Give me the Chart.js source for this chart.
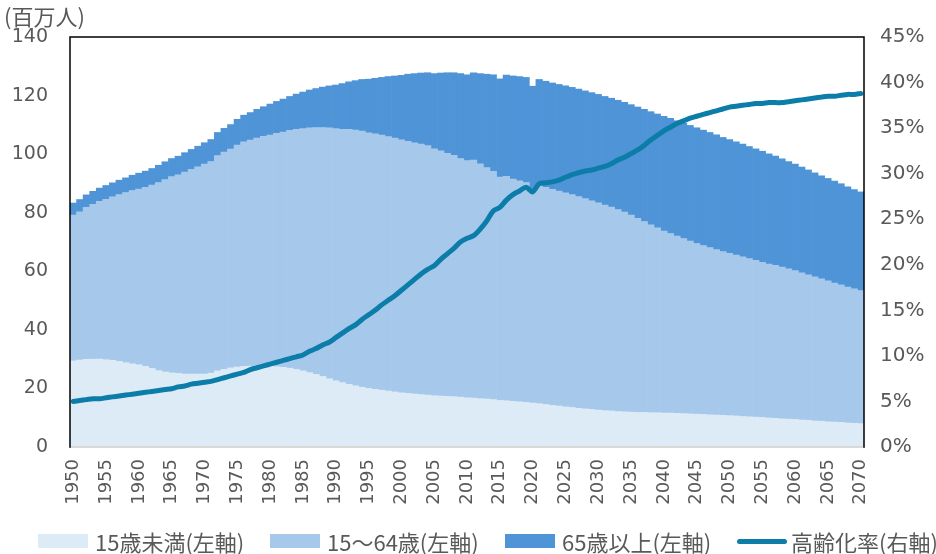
<!DOCTYPE html>
<html><head><meta charset="utf-8">
<script src="https://cdn.jsdelivr.net/npm/chart.js@4"></script>
<style>
html,body{margin:0;padding:0;background:#fff;}
#wrap{position:relative;width:936px;height:554px;background:#fff;overflow:hidden;}
#unit{position:absolute;left:4px;top:2px;font-family:"Noto Sans CJK JP";font-size:22px;color:#595959;line-height:26px;}
.lg{position:absolute;top:528px;height:26px;display:flex;align-items:center;font-family:"Noto Sans CJK JP";font-size:22px;color:#595959;white-space:nowrap;}
.bx{width:50px;height:14px;margin-right:7px;}
.ln{width:50px;height:5px;border-radius:3px;margin-right:4px;}
</style></head>
<body>
<div id="wrap">
<canvas id="c" width="936" height="554"></canvas>
<div id="unit">(百万人)</div>
<div id="legend"></div>
</div>
<script>
const years = [];
for (let y = 1950; y <= 2070; y++) years.push(String(y));

const seriesNames = ["15歳未満(左軸)", "15～64歳(左軸)", "65歳以上(左軸)", "高齢化率(右軸)"];

// 0-14 (millions)
const under15 = [
29.4,29.7,29.9,30.0,30.0,29.8,29.6,29.2,28.8,28.4,
28.1,27.5,26.8,26.1,25.6,25.3,25.1,24.9,24.9,24.9,
24.9,25.2,26.0,26.5,27.0,27.3,27.5,27.6,27.7,27.7,
27.6,27.4,27.2,26.9,26.5,26.0,25.4,24.8,24.1,23.3,
22.6,22.0,21.4,20.9,20.4,20.0,19.7,19.4,19.1,18.8,
18.5,18.3,18.1,17.9,17.7,17.5,17.4,17.3,17.2,17.0,
16.8,16.7,16.5,16.4,16.2,15.9,15.8,15.6,15.4,15.2,
15.0,14.8,14.5,14.2,14.0,13.7,13.5,13.2,13.0,12.8,
12.6,12.4,12.3,12.1,12.0,11.9,11.8,11.8,11.7,11.7,
11.6,11.6,11.5,11.4,11.3,11.2,11.1,11.0,10.9,10.8,
10.7,10.6,10.4,10.3,10.2,10.1,9.9,9.8,9.6,9.5,
9.4,9.2,9.1,8.9,8.8,8.6,8.5,8.4,8.2,8.1,
8.0];

// 15-64 (millions)
const age15to64 = [
49.8,50.6,51.9,52.9,53.9,54.8,55.8,57.0,58.1,59.2,
60.0,61.2,62.6,64.2,65.7,67.0,67.8,69.0,69.9,70.8,
71.7,72.3,73.5,74.2,74.7,75.8,76.7,77.2,77.8,78.4,
78.9,79.7,80.3,81.2,82.0,82.7,83.6,84.3,85.0,85.7,
86.1,86.5,87.1,87.3,87.5,87.3,87.2,87.1,86.9,86.7,
86.4,86.1,85.8,85.5,85.2,84.3,83.7,83.0,82.4,81.5,
81.0,81.3,80.2,79.0,77.9,76.3,76.6,75.9,75.5,75.1,
72.9,74.5,74.2,73.8,73.4,73.1,72.7,72.3,71.8,71.3,
70.8,70.2,69.6,69.0,68.2,67.3,66.3,65.2,64.2,63.1,
62.1,61.3,60.5,59.8,59.0,58.3,57.7,57.1,56.5,55.9,
55.4,54.9,54.5,54.0,53.5,53.0,52.6,52.2,51.8,51.3,
50.8,50.3,49.7,49.2,48.6,48.1,47.5,47.0,46.4,45.9,
45.4];

// 65+ (millions)
const age65plus = [
4.1,4.2,4.3,4.4,4.5,4.7,4.8,4.9,5.0,5.2,
5.4,5.5,5.7,5.9,6.1,6.2,6.4,6.6,6.8,7.0,
7.3,7.5,7.9,8.1,8.4,8.8,9.1,9.4,9.8,10.1,
10.6,10.9,11.3,11.6,12.0,12.5,12.9,13.3,13.8,14.3,
14.9,15.6,16.2,16.9,17.6,18.3,19.0,19.7,20.5,21.2,
22.0,22.9,23.6,24.3,24.9,25.7,26.6,27.5,28.2,29.0,
29.3,29.8,30.8,31.9,33.0,33.5,34.6,35.2,35.6,35.9,
35.3,36.2,36.2,36.3,36.4,36.5,36.6,36.7,36.8,36.9,
37.0,37.1,37.2,37.3,37.5,37.7,38.0,38.3,38.6,38.9,
39.2,39.3,39.4,39.4,39.5,39.5,39.4,39.3,39.2,39.0,
38.9,38.7,38.5,38.3,38.1,37.9,37.6,37.3,37.0,36.7,
36.4,36.1,35.8,35.5,35.2,35.0,34.8,34.5,34.2,33.9,
33.7];

// aging rate (%)
const agingRate = [
5.0,5.1,5.2,5.3,5.3,5.4,5.5,5.6,5.7,5.8,
5.9,6.0,6.1,6.2,6.3,6.4,6.6,6.7,6.9,7.0,
7.1,7.2,7.4,7.6,7.8,8.0,8.2,8.5,8.7,8.9,
9.1,9.3,9.5,9.7,9.9,10.1,10.5,10.8,11.2,11.5,
12.0,12.5,13.0,13.4,14.0,14.5,15.0,15.6,16.1,16.6,
17.2,17.8,18.4,19.0,19.5,19.9,20.6,21.2,21.8,22.5,
22.9,23.2,23.9,24.8,25.9,26.3,27.1,27.7,28.1,28.5,
28.0,28.9,29.0,29.1,29.3,29.6,29.9,30.1,30.3,30.4,
30.6,30.8,31.1,31.5,31.8,32.2,32.6,33.1,33.7,34.2,
34.7,35.1,35.5,35.8,36.1,36.3,36.5,36.7,36.9,37.1,
37.3,37.4,37.5,37.6,37.7,37.7,37.8,37.8,37.8,37.9,
38.0,38.1,38.2,38.3,38.4,38.5,38.5,38.6,38.7,38.7,
38.8];

const leftTicks = [0,20,40,60,80,100,120,140];
const rightTicks = [0,5,10,15,20,25,30,35,40,45];

const colors = ["#DDEBF7", "#A6C9EB", "#4E94D7", "#0B7DA8"];
const txt = "#595959";

// HTML legend
const legendPos = [38, 270, 505, 737];
const lg = document.getElementById('legend');
seriesNames.forEach((n, i) => {
  const d = document.createElement('div');
  d.className = 'lg';
  d.style.left = legendPos[i] + 'px';
  const s = document.createElement('span');
  s.className = i < 3 ? 'bx' : 'ln';
  s.style.background = colors[i];
  d.appendChild(s);
  const t = document.createElement('span');
  t.textContent = n;
  d.appendChild(t);
  lg.appendChild(d);
});

const frame = {
  id: 'frame',
  afterDraw(chart) {
    const a = chart.chartArea, c = chart.ctx;
    c.save();
    c.lineCap = 'square';
    c.strokeStyle = '#D9D9D9'; c.lineWidth = 2;
    c.beginPath(); c.moveTo(a.left, a.bottom); c.lineTo(a.right, a.bottom); c.stroke();
    c.strokeStyle = '#000'; c.lineWidth = 1.5;
    c.beginPath(); c.moveTo(a.left, a.bottom); c.lineTo(a.left, a.top); c.lineTo(a.right, a.top); c.lineTo(a.right, a.bottom); c.stroke();
    c.restore();
  }
};

new Chart(document.getElementById('c'), {
  data: {
    labels: years,
    datasets: [
      { type: 'bar', label: seriesNames[0], data: under15, backgroundColor: colors[0], yAxisID: 'y', order: 1, borderWidth: 0 },
      { type: 'bar', label: seriesNames[1], data: age15to64, backgroundColor: colors[1], yAxisID: 'y', order: 1, borderWidth: 0 },
      { type: 'bar', label: seriesNames[2], data: age65plus, backgroundColor: colors[2], yAxisID: 'y', order: 1, borderWidth: 0 },
      { type: 'line', label: seriesNames[3], data: agingRate, borderColor: colors[3], backgroundColor: colors[3], yAxisID: 'y1', order: 0,
        borderWidth: 5, pointRadius: 0, tension: 0.3, borderCapStyle: 'round', borderJoinStyle: 'round' }
    ]
  },
  options: {
    responsive: false,
    devicePixelRatio: 1,
    animation: false,
    layout: { padding: { top: 37, bottom: 42, left: 0, right: 0 } },
    datasets: { bar: { barPercentage: 1, categoryPercentage: 1 } },
    plugins: { legend: { display: false }, tooltip: { enabled: false } },
    scales: {
      x: {
        stacked: true,
        offset: true,
        grid: { display: false, drawTicks: false },
        border: { display: false },
        ticks: {
          autoSkip: false, maxRotation: 90, minRotation: 90, padding: 12,
          color: txt, font: { family: "DejaVu Sans", size: 18 },
          callback: function(v, i) { const y = Number(years[i]); return y % 5 === 0 ? years[i] : ''; }
        },
        afterFit(s) { s.height = 65; }
      },
      y: {
        stacked: true, position: 'left', min: 0, max: 140,
        afterBuildTicks(s) { s.ticks = leftTicks.map(v => ({ value: v })); },
        grid: { display: false, drawTicks: false },
        border: { display: false },
        ticks: { padding: 22, color: txt, font: { family: "DejaVu Sans", size: 19 } },
        afterFit(s) { s.width = 70; }
      },
      y1: {
        position: 'right', min: 0, max: 45,
        afterBuildTicks(s) { s.ticks = rightTicks.map(v => ({ value: v })); },
        grid: { display: false, drawTicks: false },
        border: { display: false },
        ticks: { padding: 16, color: txt, font: { family: "DejaVu Sans", size: 20 }, callback: v => v + '%' },
        afterFit(s) { s.width = 72; }
      }
    }
  },
  plugins: [frame]
});
</script>
</body></html>
